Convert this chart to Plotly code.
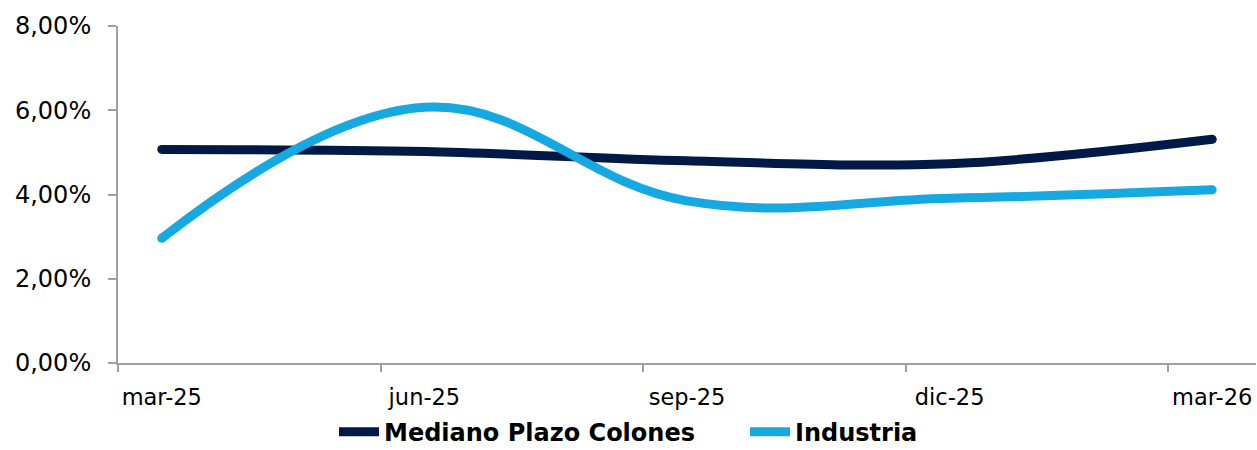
import plotly.graph_objects as go

# Monthly index positions of the quarterly observations (mar-25 = 0 ... mar-26 = 12)
month_index = [0, 3, 6, 9, 12]
tick_labels = ["mar-25", "jun-25", "sep-25", "dic-25", "mar-26"]

mediano_plazo_colones = [0.0507, 0.0502, 0.0480, 0.0473, 0.0531]
industria = [0.0296, 0.0607, 0.0385, 0.0391, 0.0411]

dark = "#001A45"
light = "#16A9E1"
font_family = "'DejaVu Sans', sans-serif"

fig = go.Figure()
for name, vals, col, sm in [("Mediano Plazo Colones", mediano_plazo_colones, dark, 1.0),
                            ("Industria", industria, light, 1.15)]:
    fig.add_trace(go.Scatter(
        x=month_index, y=vals, name=name, mode="lines",
        line=dict(color=col, width=9, shape="spline", smoothing=sm),
    ))
    # round end caps
    fig.add_trace(go.Scatter(
        x=[month_index[0], month_index[-1]], y=[vals[0], vals[-1]],
        mode="markers", marker=dict(color=col, size=9, line=dict(width=0)),
        showlegend=False, hoverinfo="skip",
    ))

fig.update_layout(
    width=1257, height=450,
    margin=dict(l=118, r=1, t=26, b=87, autoexpand=False),
    paper_bgcolor="white", plot_bgcolor="white",
    separators=",.",
    font=dict(family=font_family, size=24, color="#000000"),
    showlegend=True,
    legend=dict(
        orientation="h", x=(334 - 118) / 1138, xanchor="left", y=-0.205, yanchor="middle",
        font=dict(family=font_family, size=24, color="#000000", weight="bold"),
        entrywidth=356, entrywidthmode="pixels",
        itemwidth=40, tracegroupgap=0, bgcolor="rgba(0,0,0,0)",
    ),
)

fig.update_xaxes(
    range=[-0.5, 12.5], tickmode="array", tickvals=month_index, ticktext=tick_labels,
    ticks="", showgrid=False, zeroline=False, automargin=False,
    showline=True, linecolor="#A0A0A0", linewidth=2,
    tickfont=dict(size=22.5), ticklabelstandoff=13,
    minor=dict(tickmode="linear", tick0=-0.5, dtick=3, ticks="outside",
               ticklen=7, tickwidth=2, tickcolor="#A0A0A0", showgrid=False),
)

fig.update_yaxes(
    range=[0, 0.08], tickvals=[0, 0.02, 0.04, 0.06, 0.08], tickformat=".2%",
    ticks="outside", ticklen=8, tickwidth=2, tickcolor="#A0A0A0",
    showgrid=False, zeroline=False, automargin=False,
    showline=True, linecolor="#A0A0A0", linewidth=2,
    tickfont=dict(size=24), ticklabelstandoff=12,
)

fig.write_html("out.html")
